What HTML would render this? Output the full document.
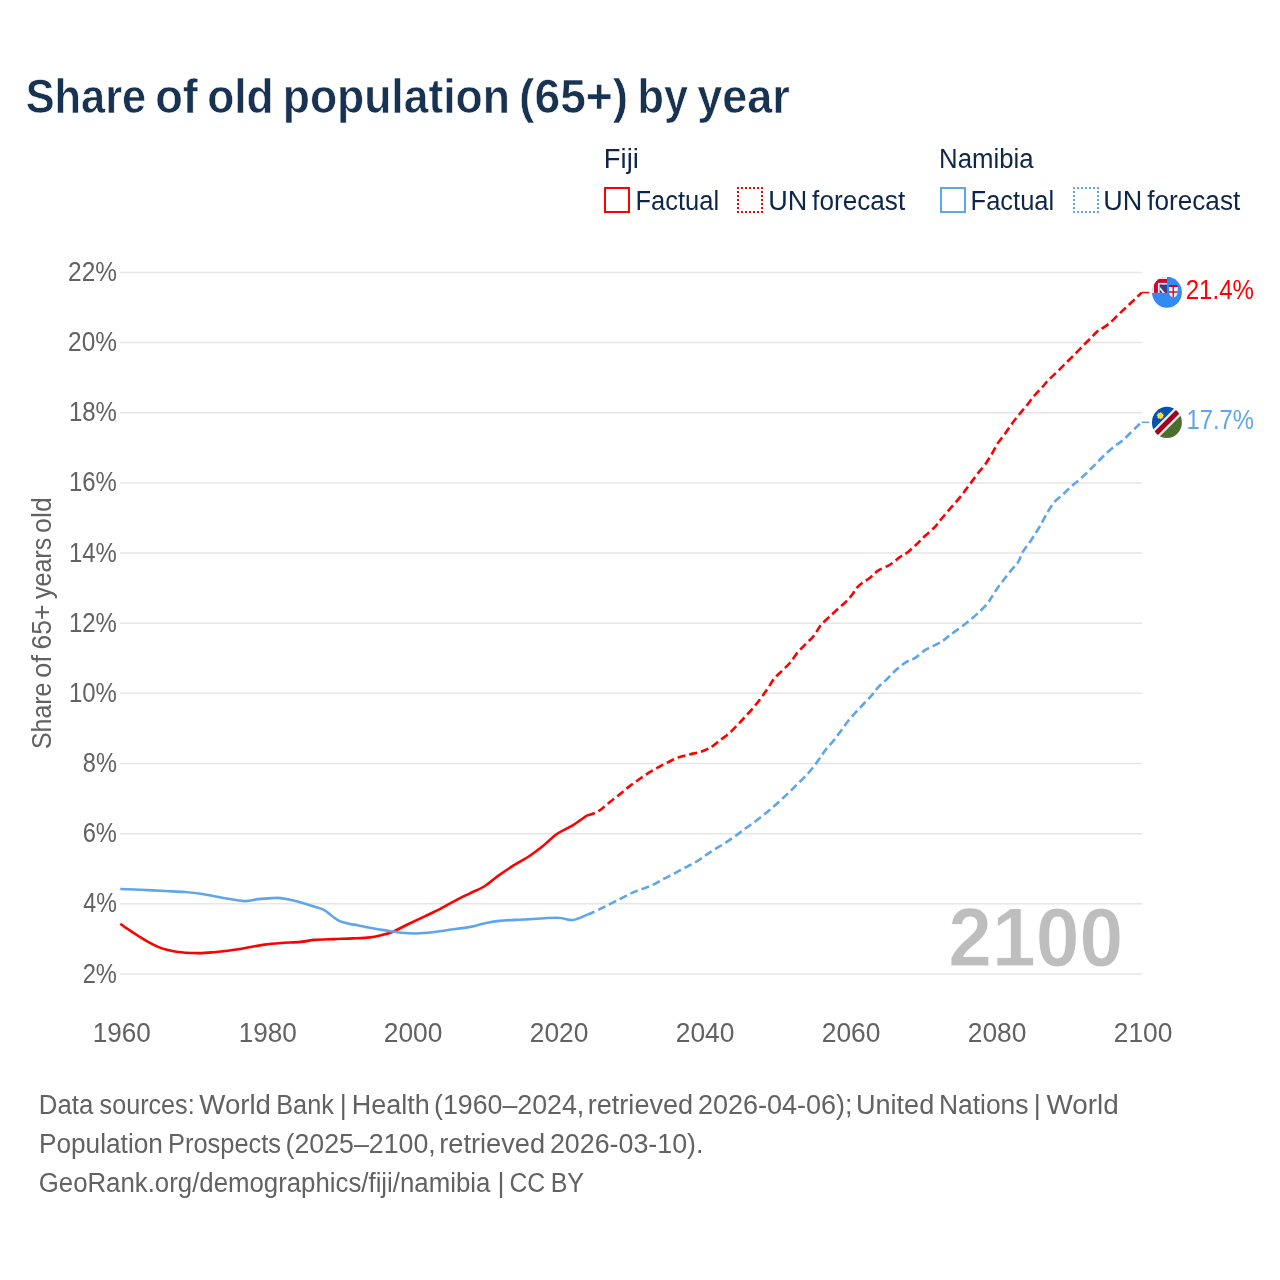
<!DOCTYPE html>
<html><head><meta charset="utf-8"><title>Share of old population (65+) by year</title>
<style>html,body{margin:0;padding:0;background:#fff;width:1280px;height:1280px;overflow:hidden}svg{display:block}</style></head><body>
<svg width="1280" height="1280" viewBox="0 0 1280 1280" font-family="'Liberation Sans', Arial, sans-serif">
<rect width="1280" height="1280" fill="#fff"/>
<g stroke="#e6e6e6" stroke-width="1.5" fill="none">
<line x1="120" y1="974.00" x2="1142" y2="974.00"/>
<line x1="120" y1="903.84" x2="1142" y2="903.84"/>
<line x1="120" y1="833.68" x2="1142" y2="833.68"/>
<line x1="120" y1="763.52" x2="1142" y2="763.52"/>
<line x1="120" y1="693.36" x2="1142" y2="693.36"/>
<line x1="120" y1="623.20" x2="1142" y2="623.20"/>
<line x1="120" y1="553.04" x2="1142" y2="553.04"/>
<line x1="120" y1="482.88" x2="1142" y2="482.88"/>
<line x1="120" y1="412.72" x2="1142" y2="412.72"/>
<line x1="120" y1="342.56" x2="1142" y2="342.56"/>
<line x1="120" y1="272.40" x2="1142" y2="272.40"/>
</g>
<text y="112.60" font-size="48.5" font-weight="bold" fill="#183252" stroke="#fff" stroke-width="0.6"><tspan x="25.66" textLength="120.45" lengthAdjust="spacingAndGlyphs">Share</tspan> <tspan x="155.14" textLength="42.66" lengthAdjust="spacingAndGlyphs">of</tspan> <tspan x="207.17" textLength="66.38" lengthAdjust="spacingAndGlyphs">old</tspan> <tspan x="282.72" textLength="227.22" lengthAdjust="spacingAndGlyphs">population</tspan> <tspan x="519.07" textLength="109.19" lengthAdjust="spacingAndGlyphs">(65+)</tspan> <tspan x="637.60" textLength="50.40" lengthAdjust="spacingAndGlyphs">by</tspan> <tspan x="697.16" textLength="92.68" lengthAdjust="spacingAndGlyphs">year</tspan></text>
<text y="167.80" font-size="27" fill="#0e2749"><tspan x="603.83" textLength="35.05" lengthAdjust="spacingAndGlyphs">Fiji</tspan></text>
<text y="168.00" font-size="27" fill="#0e2749"><tspan x="939.11" textLength="94.54" lengthAdjust="spacingAndGlyphs">Namibia</tspan></text>
<text y="209.80" font-size="27" fill="#0e2749"><tspan x="635.49" textLength="83.59" lengthAdjust="spacingAndGlyphs">Factual</tspan></text>
<text y="209.80" font-size="27" fill="#0e2749"><tspan x="768.20" textLength="39.02" lengthAdjust="spacingAndGlyphs">UN</tspan> <tspan x="812.12" textLength="93.04" lengthAdjust="spacingAndGlyphs">forecast</tspan></text>
<text y="209.80" font-size="27" fill="#0e2749"><tspan x="970.59" textLength="83.59" lengthAdjust="spacingAndGlyphs">Factual</tspan></text>
<text y="209.80" font-size="27" fill="#0e2749"><tspan x="1103.30" textLength="39.02" lengthAdjust="spacingAndGlyphs">UN</tspan> <tspan x="1147.22" textLength="93.04" lengthAdjust="spacingAndGlyphs">forecast</tspan></text>
<text y="982.50" font-size="27" fill="#626262"><tspan x="82.70" textLength="34.21" lengthAdjust="spacingAndGlyphs">2%</tspan></text>
<text y="912.34" font-size="27" fill="#626262"><tspan x="83.36" textLength="33.53" lengthAdjust="spacingAndGlyphs">4%</tspan></text>
<text y="842.18" font-size="27" fill="#626262"><tspan x="82.65" textLength="34.26" lengthAdjust="spacingAndGlyphs">6%</tspan></text>
<text y="772.02" font-size="27" fill="#626262"><tspan x="82.81" textLength="34.09" lengthAdjust="spacingAndGlyphs">8%</tspan></text>
<text y="701.86" font-size="27" fill="#626262"><tspan x="68.95" textLength="47.98" lengthAdjust="spacingAndGlyphs">10%</tspan></text>
<text y="631.70" font-size="27" fill="#626262"><tspan x="68.95" textLength="47.98" lengthAdjust="spacingAndGlyphs">12%</tspan></text>
<text y="561.54" font-size="27" fill="#626262"><tspan x="68.95" textLength="47.98" lengthAdjust="spacingAndGlyphs">14%</tspan></text>
<text y="491.38" font-size="27" fill="#626262"><tspan x="68.95" textLength="47.98" lengthAdjust="spacingAndGlyphs">16%</tspan></text>
<text y="421.22" font-size="27" fill="#626262"><tspan x="68.95" textLength="47.98" lengthAdjust="spacingAndGlyphs">18%</tspan></text>
<text y="351.06" font-size="27" fill="#626262"><tspan x="68.06" textLength="48.90" lengthAdjust="spacingAndGlyphs">20%</tspan></text>
<text y="280.90" font-size="27" fill="#626262"><tspan x="68.06" textLength="48.90" lengthAdjust="spacingAndGlyphs">22%</tspan></text>
<text y="1041.90" font-size="27" fill="#626262"><tspan x="92.69" textLength="58.14" lengthAdjust="spacingAndGlyphs">1960</tspan></text>
<text y="1041.90" font-size="27" fill="#626262"><tspan x="238.69" textLength="58.14" lengthAdjust="spacingAndGlyphs">1980</tspan></text>
<text y="1041.90" font-size="27" fill="#626262"><tspan x="383.76" textLength="58.68" lengthAdjust="spacingAndGlyphs">2000</tspan></text>
<text y="1041.90" font-size="27" fill="#626262"><tspan x="529.76" textLength="58.68" lengthAdjust="spacingAndGlyphs">2020</tspan></text>
<text y="1041.90" font-size="27" fill="#626262"><tspan x="675.76" textLength="58.68" lengthAdjust="spacingAndGlyphs">2040</tspan></text>
<text y="1041.90" font-size="27" fill="#626262"><tspan x="821.76" textLength="58.68" lengthAdjust="spacingAndGlyphs">2060</tspan></text>
<text y="1041.90" font-size="27" fill="#626262"><tspan x="967.76" textLength="58.68" lengthAdjust="spacingAndGlyphs">2080</tspan></text>
<text y="1041.90" font-size="27" fill="#626262"><tspan x="1113.76" textLength="58.68" lengthAdjust="spacingAndGlyphs">2100</tspan></text>
<text y="0.00" transform="translate(50.75,0) rotate(-90)" font-size="27" fill="#626262"><tspan x="-748.98" textLength="66.37" lengthAdjust="spacingAndGlyphs">Share</tspan> <tspan x="-678.02" textLength="23.01" lengthAdjust="spacingAndGlyphs">of</tspan> <tspan x="-649.50" textLength="44.95" lengthAdjust="spacingAndGlyphs">65+</tspan> <tspan x="-599.00" textLength="61.22" lengthAdjust="spacingAndGlyphs">years</tspan> <tspan x="-532.88" textLength="35.75" lengthAdjust="spacingAndGlyphs">old</tspan></text>
<text y="1113.80" font-size="27" fill="#626262"><tspan x="38.76" textLength="54.49" lengthAdjust="spacingAndGlyphs">Data</tspan> <tspan x="99.60" textLength="95.05" lengthAdjust="spacingAndGlyphs">sources:</tspan> <tspan x="199.31" textLength="71.72" lengthAdjust="spacingAndGlyphs">World</tspan> <tspan x="276.20" textLength="57.73" lengthAdjust="spacingAndGlyphs">Bank</tspan> <tspan x="339.70" textLength="7.02" lengthAdjust="spacingAndGlyphs">|</tspan> <tspan x="351.66" textLength="78.02" lengthAdjust="spacingAndGlyphs">Health</tspan> <tspan x="434.05" textLength="150.25" lengthAdjust="spacingAndGlyphs">(1960–2024,</tspan> <tspan x="587.78" textLength="105.33" lengthAdjust="spacingAndGlyphs">retrieved</tspan> <tspan x="698.03" textLength="154.58" lengthAdjust="spacingAndGlyphs">2026-04-06);</tspan> <tspan x="856.00" textLength="78.20" lengthAdjust="spacingAndGlyphs">United</tspan> <tspan x="938.91" textLength="89.64" lengthAdjust="spacingAndGlyphs">Nations</tspan> <tspan x="1033.70" textLength="7.02" lengthAdjust="spacingAndGlyphs">|</tspan> <tspan x="1046.50" textLength="72.24" lengthAdjust="spacingAndGlyphs">World</tspan></text>
<text y="1152.70" font-size="27" fill="#626262"><tspan x="38.92" textLength="123.99" lengthAdjust="spacingAndGlyphs">Population</tspan> <tspan x="168.09" textLength="112.92" lengthAdjust="spacingAndGlyphs">Prospects</tspan> <tspan x="285.60" textLength="150.19" lengthAdjust="spacingAndGlyphs">(2025–2100,</tspan> <tspan x="439.27" textLength="105.74" lengthAdjust="spacingAndGlyphs">retrieved</tspan> <tspan x="549.94" textLength="153.55" lengthAdjust="spacingAndGlyphs">2026-03-10).</tspan></text>
<text y="1191.50" font-size="27" fill="#626262"><tspan x="38.75" textLength="451.57" lengthAdjust="spacingAndGlyphs">GeoRank.org/demographics/fiji/namibia</tspan> <tspan x="497.50" textLength="7.02" lengthAdjust="spacingAndGlyphs">|</tspan> <tspan x="509.39" textLength="35.76" lengthAdjust="spacingAndGlyphs">CC</tspan> <tspan x="550.63" textLength="33.36" lengthAdjust="spacingAndGlyphs">BY</tspan></text>
<text y="965.80" font-size="82.5" font-weight="bold" fill="#bebebe" stroke="#fff" stroke-width="0.8"><tspan x="948.14" textLength="175.01" lengthAdjust="spacingAndGlyphs">2100</tspan></text>
<text y="298.60" font-size="27" fill="#ff0000"><tspan x="1185.68" textLength="68.28" lengthAdjust="spacingAndGlyphs">21.4%</tspan></text>
<text y="428.60" font-size="27" fill="#5fa5eb"><tspan x="1186.47" textLength="67.48" lengthAdjust="spacingAndGlyphs">17.7%</tspan></text>
<rect x="605" y="188" width="24" height="24" fill="none" stroke="#ff0000" stroke-width="2"/>
<rect x="941" y="188" width="24" height="24" fill="none" stroke="#5fa5eb" stroke-width="2"/>
<path fill="#ff0000" d="M737 187h2v2h-2zM737 191h2v2h-2zM737 195h2v2h-2zM737 199h2v2h-2zM737 203h2v2h-2zM737 207h2v2h-2zM737 211h2v2h-2zM741 187h2v2h-2zM741 211h2v2h-2zM745 187h2v2h-2zM745 211h2v2h-2zM749 187h2v2h-2zM749 211h2v2h-2zM753 187h2v2h-2zM753 211h2v2h-2zM757 187h2v2h-2zM757 211h2v2h-2zM761 187h2v2h-2zM761 191h2v2h-2zM761 195h2v2h-2zM761 199h2v2h-2zM761 203h2v2h-2zM761 207h2v2h-2zM761 211h2v2h-2z"/>
<path fill="#5fa5eb" d="M1073 187h2v2h-2zM1073 191h2v2h-2zM1073 195h2v2h-2zM1073 199h2v2h-2zM1073 203h2v2h-2zM1073 207h2v2h-2zM1073 211h2v2h-2zM1077 187h2v2h-2zM1077 211h2v2h-2zM1081 187h2v2h-2zM1081 211h2v2h-2zM1085 187h2v2h-2zM1085 211h2v2h-2zM1089 187h2v2h-2zM1089 211h2v2h-2zM1093 187h2v2h-2zM1093 211h2v2h-2zM1097 187h2v2h-2zM1097 191h2v2h-2zM1097 195h2v2h-2zM1097 199h2v2h-2zM1097 203h2v2h-2zM1097 207h2v2h-2zM1097 211h2v2h-2z"/>
<g fill="none" stroke-width="2.6" stroke-linejoin="round">
<path d="M120.30 923.80 C121.82 924.87 126.33 928.12 129.40 930.20 C132.47 932.28 135.63 934.30 138.75 936.25 C141.87 938.20 144.97 940.17 148.10 941.90 C151.22 943.62 154.37 945.28 157.50 946.60 C160.63 947.92 163.78 948.95 166.90 949.80 C170.03 950.65 173.13 951.22 176.25 951.70 C179.37 952.18 181.69 952.47 185.60 952.70 C189.51 952.93 195.01 953.18 199.70 953.10 C204.39 953.02 209.85 952.51 213.75 952.20 C217.65 951.89 218.72 951.78 223.10 951.25 C227.47 950.72 235.65 949.66 240.00 949.00 C244.35 948.34 245.12 948.03 249.20 947.30 C253.28 946.57 259.22 945.32 264.50 944.60 C269.78 943.88 274.88 943.45 280.90 943.00 C286.92 942.55 294.95 942.42 300.60 941.90 C306.25 941.38 309.33 940.37 314.80 939.90 C320.27 939.43 327.02 939.35 333.40 939.10 C339.78 938.85 347.00 938.68 353.10 938.40 C359.20 938.12 365.23 937.95 370.00 937.40 C374.77 936.85 378.05 935.95 381.70 935.10 C385.35 934.25 389.42 933.15 391.90 932.30 C394.38 931.45 393.73 931.42 396.60 930.00 C399.47 928.58 404.42 926.03 409.10 923.75 C413.78 921.47 419.50 918.77 424.70 916.30 C429.90 913.82 435.10 911.57 440.30 908.90 C445.50 906.23 450.95 902.90 455.90 900.30 C460.85 897.70 465.30 895.60 470.00 893.30 C474.70 891.00 479.42 889.40 484.10 886.50 C488.78 883.60 493.18 879.42 498.10 875.90 C503.02 872.38 508.43 868.67 513.60 865.40 C518.77 862.12 524.42 859.30 529.10 856.25 C533.78 853.20 537.02 850.85 541.70 847.10 C546.38 843.35 552.03 837.38 557.20 833.75 C562.37 830.12 567.70 828.38 572.70 825.30 C577.70 822.22 584.78 816.97 587.20 815.30" stroke="#ff0000"/>
<path d="M587.20 815.30 C587.43 815.25 587.45 815.33 588.60 815.00 C589.75 814.67 591.98 814.27 594.10 813.30 C596.22 812.33 598.67 811.07 601.30 809.20 C603.93 807.33 606.87 804.55 609.90 802.10 C612.93 799.65 616.37 797.03 619.50 794.50 C622.63 791.97 625.65 789.27 628.70 786.90 C631.75 784.53 634.67 782.50 637.80 780.30 C640.93 778.10 644.20 775.82 647.50 773.70 C650.80 771.58 654.22 769.50 657.60 767.60 C660.98 765.70 664.33 764.00 667.80 762.30 C671.27 760.60 674.77 758.72 678.40 757.40 C682.03 756.08 685.87 755.33 689.60 754.40 C693.33 753.47 697.55 752.82 700.80 751.80 C704.05 750.78 707.05 749.30 709.10 748.30 C711.15 747.30 711.25 747.15 713.10 745.80 C714.95 744.45 717.48 742.32 720.20 740.20 C722.92 738.08 726.52 735.63 729.40 733.10 C732.28 730.57 734.80 727.80 737.50 725.00 C740.20 722.20 742.89 719.27 745.60 716.30 C748.31 713.33 751.20 710.25 753.75 707.20 C756.30 704.15 758.61 701.05 760.90 698.00 C763.19 694.95 765.30 692.11 767.50 688.90 C769.70 685.69 771.65 681.80 774.10 678.75 C776.55 675.70 779.50 673.31 782.20 670.60 C784.90 667.89 787.85 665.37 790.30 662.50 C792.75 659.63 794.37 656.45 796.90 653.40 C799.43 650.35 802.80 647.00 805.50 644.20 C808.20 641.40 810.82 639.38 813.10 636.60 C815.38 633.82 817.67 629.70 819.20 627.50 C820.73 625.30 820.60 625.18 822.30 623.40 C824.00 621.62 826.87 619.17 829.40 616.80 C831.93 614.43 834.72 611.73 837.50 609.20 C840.28 606.67 843.57 604.13 846.10 601.60 C848.63 599.07 851.08 596.12 852.70 594.00 C854.32 591.88 854.27 590.68 855.80 588.90 C857.33 587.12 859.53 585.17 861.90 583.30 C864.27 581.43 867.30 579.82 870.00 577.70 C872.70 575.58 874.72 572.80 878.10 570.60 C881.48 568.40 886.73 566.70 890.30 564.50 C893.87 562.30 896.62 559.43 899.50 557.40 C902.38 555.37 904.73 554.50 907.60 552.30 C910.47 550.10 913.95 546.78 916.70 544.20 C919.45 541.62 921.18 539.55 924.10 536.80 C927.02 534.05 931.33 530.67 934.20 527.70 C937.07 524.73 938.75 522.05 941.30 519.00 C943.85 515.95 946.78 512.53 949.50 509.40 C952.22 506.27 955.07 503.25 957.60 500.20 C960.13 497.15 962.50 493.97 964.70 491.10 C966.90 488.23 968.60 485.97 970.80 483.00 C973.00 480.03 975.53 476.35 977.90 473.30 C980.27 470.25 982.63 468.00 985.00 464.70 C987.37 461.40 989.98 457.05 992.10 453.50 C994.22 449.95 995.52 446.75 997.70 443.40 C999.88 440.05 1002.80 436.72 1005.20 433.40 C1007.60 430.08 1009.75 426.68 1012.10 423.50 C1014.45 420.32 1016.83 417.35 1019.30 414.30 C1021.77 411.25 1024.45 408.25 1026.90 405.20 C1029.35 402.15 1031.55 398.88 1034.00 396.00 C1036.45 393.12 1039.14 390.60 1041.60 387.90 C1044.06 385.20 1046.12 382.52 1048.75 379.80 C1051.38 377.08 1054.44 374.48 1057.40 371.60 C1060.36 368.72 1063.53 365.45 1066.50 362.50 C1069.47 359.55 1072.32 356.82 1075.20 353.90 C1078.08 350.98 1081.07 347.78 1083.80 345.00 C1086.53 342.22 1089.37 339.43 1091.60 337.20 C1093.83 334.97 1095.70 332.90 1097.20 331.60 C1098.70 330.30 1098.52 330.82 1100.60 329.40 C1102.68 327.98 1106.78 325.50 1109.70 323.10 C1112.62 320.70 1115.28 317.70 1118.10 315.00 C1120.92 312.30 1123.73 309.61 1126.60 306.90 C1129.47 304.19 1132.80 301.13 1135.30 298.75 C1137.80 296.37 1140.55 293.62 1141.60 292.60" stroke="#ff0000" stroke-dasharray="8 4"/>
<path d="M120.30 889.00 C123.58 889.12 132.55 889.42 140.00 889.75 C147.45 890.08 157.50 890.62 165.00 891.00 C172.50 891.38 178.75 891.50 185.00 892.00 C191.25 892.50 196.50 893.08 202.50 894.00 C208.50 894.92 214.07 896.32 221.00 897.50 C227.93 898.68 237.92 900.83 244.10 901.10 C250.28 901.37 253.42 899.60 258.10 899.10 C262.78 898.60 268.45 898.27 272.20 898.10 C275.95 897.93 276.70 897.63 280.60 898.10 C284.50 898.57 290.75 899.72 295.60 900.90 C300.45 902.08 305.01 903.72 309.70 905.20 C314.39 906.68 320.16 908.08 323.75 909.80 C327.34 911.52 328.59 913.62 331.25 915.50 C333.91 917.38 336.57 919.70 339.70 921.10 C342.82 922.50 347.03 923.22 350.00 923.90 C352.97 924.58 354.17 924.57 357.50 925.20 C360.83 925.83 365.32 926.83 370.00 927.70 C374.68 928.57 380.39 929.57 385.60 930.40 C390.81 931.23 396.03 932.18 401.25 932.70 C406.47 933.22 411.69 933.57 416.90 933.50 C422.11 933.43 427.30 932.88 432.50 932.30 C437.70 931.72 441.85 930.90 448.10 930.00 C454.35 929.10 464.00 927.98 470.00 926.90 C476.00 925.82 479.18 924.50 484.10 923.50 C489.02 922.50 492.95 921.57 499.50 920.90 C506.05 920.23 513.78 920.02 523.40 919.50 C533.02 918.98 548.98 917.72 557.20 917.80 C565.42 917.88 567.70 920.53 572.70 920.00 C577.70 919.47 584.78 915.50 587.20 914.60" stroke="#5fa5eb"/>
<path d="M587.20 914.60 C587.83 914.37 588.58 914.27 591.00 913.20 C593.42 912.13 598.23 909.88 601.70 908.20 C605.17 906.52 608.42 904.80 611.80 903.10 C615.18 901.40 618.52 899.75 622.00 898.00 C625.48 896.25 629.15 894.17 632.70 892.60 C636.25 891.03 639.75 889.98 643.30 888.60 C646.85 887.22 650.53 885.95 654.00 884.30 C657.47 882.65 660.67 880.53 664.10 878.70 C667.53 876.87 671.12 875.13 674.60 873.30 C678.08 871.47 681.58 869.50 685.00 867.70 C688.42 865.90 691.83 864.43 695.10 862.50 C698.37 860.57 701.42 858.25 704.60 856.10 C707.78 853.95 710.93 851.68 714.20 849.60 C717.47 847.52 720.92 845.70 724.20 843.60 C727.48 841.50 730.68 839.28 733.90 837.00 C737.12 834.72 740.37 832.18 743.50 829.90 C746.63 827.62 749.57 825.62 752.70 823.30 C755.83 820.98 759.27 818.40 762.30 816.00 C765.33 813.60 767.93 811.45 770.90 808.90 C773.87 806.35 777.13 803.38 780.10 800.70 C783.07 798.02 785.92 795.47 788.70 792.80 C791.48 790.13 794.08 787.40 796.80 784.70 C799.52 782.00 802.28 779.48 805.00 776.60 C807.72 773.72 810.65 770.45 813.10 767.40 C815.55 764.35 817.58 761.27 819.70 758.30 C821.82 755.33 823.40 752.65 825.80 749.60 C828.20 746.55 831.53 743.20 834.10 740.00 C836.67 736.80 838.83 733.62 841.20 730.40 C843.57 727.18 845.85 723.75 848.30 720.70 C850.75 717.65 853.28 714.97 855.90 712.10 C858.52 709.23 861.30 706.38 864.00 703.50 C866.70 700.62 869.64 697.60 872.10 694.80 C874.56 692.00 876.12 689.48 878.75 686.70 C881.38 683.92 884.94 680.97 887.90 678.10 C890.86 675.23 893.53 672.13 896.50 669.50 C899.47 666.87 902.57 664.25 905.70 662.30 C908.83 660.35 912.08 659.82 915.30 657.80 C918.52 655.78 921.70 652.32 925.00 650.20 C928.30 648.08 932.10 646.68 935.10 645.10 C938.10 643.52 940.83 642.12 943.00 640.70 C945.17 639.28 946.15 638.12 948.10 636.60 C950.05 635.08 952.07 633.53 954.70 631.60 C957.33 629.67 960.93 627.28 963.90 625.00 C966.87 622.72 969.63 620.37 972.50 617.90 C975.37 615.43 978.57 612.67 981.10 610.20 C983.63 607.73 985.92 605.30 987.70 603.10 C989.48 600.90 990.27 599.37 991.80 597.00 C993.33 594.63 995.03 591.60 996.90 588.90 C998.77 586.20 1000.80 583.68 1003.00 580.80 C1005.20 577.92 1007.73 574.48 1010.10 571.60 C1012.47 568.72 1015.60 565.60 1017.20 563.50 C1018.80 561.40 1018.77 560.95 1019.70 559.00 C1020.63 557.05 1021.18 554.52 1022.80 551.80 C1024.42 549.08 1027.18 545.92 1029.40 542.70 C1031.62 539.48 1033.97 535.92 1036.10 532.50 C1038.23 529.08 1040.25 525.63 1042.20 522.20 C1044.15 518.77 1045.77 515.27 1047.80 511.90 C1049.83 508.53 1051.82 504.97 1054.40 502.00 C1056.98 499.03 1060.42 496.75 1063.30 494.10 C1066.18 491.45 1068.82 488.68 1071.70 486.10 C1074.58 483.52 1077.70 481.18 1080.60 478.60 C1083.50 476.02 1086.28 473.33 1089.10 470.60 C1091.92 467.87 1094.70 465.01 1097.50 462.20 C1100.30 459.39 1103.08 456.41 1105.90 453.75 C1108.72 451.09 1111.73 448.36 1114.40 446.25 C1117.07 444.14 1119.57 442.98 1121.90 441.10 C1124.23 439.23 1125.90 437.42 1128.40 435.00 C1130.90 432.58 1134.70 428.72 1136.90 426.60 C1139.10 424.48 1140.82 423.02 1141.60 422.30" stroke="#5fa5eb" stroke-dasharray="8 4"/>
</g>
<line x1="1141.6" y1="292.55" x2="1149.2" y2="292.55" stroke="#ff0000" stroke-width="1.5"/>
<line x1="1141.6" y1="422.3" x2="1149.2" y2="422.3" stroke="#5fa5eb" stroke-width="1.5"/>
<defs><clipPath id="cfj"><ellipse cx="1166.95" cy="292.35" rx="14.95" ry="15.5"/></clipPath><clipPath id="cna"><ellipse cx="1166.9" cy="422.4" rx="14.95" ry="15.55"/></clipPath></defs>
<g clip-path="url(#cfj)">
<rect x="1152" y="277" width="30" height="31" fill="#338af3"/>
<rect x="1152" y="277" width="15" height="15.9" fill="#eeeeee"/>
<rect x="1152" y="279" width="15" height="3.9" fill="#d80027"/>
<rect x="1154" y="277" width="3.9" height="15.9" fill="#d80027"/>
<rect x="1159.6" y="284.6" width="7.4" height="8.3" fill="#0052b4"/>
<path d="M1159.6 286.5 L1165 292.9 L1162.6 292.9 L1159.6 289.3 Z" fill="#eeeeee"/>
<path d="M1160 284.6 L1161.4 284.6 L1167 291.4 L1167 292.9 L1166.2 292.9 Z" fill="#d80027"/>
<path d="M1169 285 H1177.8 V292 Q1177.8 296 1173.4 297.8 Q1169 296 1169 292 Z" fill="#eeeeee"/>
<rect x="1169" y="285" width="8.8" height="2" fill="#d80027"/>
<rect x="1172.6" y="287" width="1.3" height="10.6" fill="#d80027"/>
<rect x="1169" y="291.3" width="8.8" height="1.4" fill="#d80027"/>
</g>

<g clip-path="url(#cna)">
<rect x="1150" y="405" width="34" height="36" fill="#eeeeee"/>
<path d="M1140 395 H1187.65 L1140 442.65 Z" fill="#0052b4"/>
<path d="M1190.95 395 H1197.95 L1140 452.95 V445.95 Z" fill="#a2001d"/>
<path d="M1201.25 395 H1210 V460 H1140 V456.25 Z" fill="#496e2d"/>
<g transform="translate(1160.3,415.7)" fill="#ffda44"><circle r="2.6"/><path d="M0.00 -4.10 L0.65 -2.41 L2.05 -3.55 L1.77 -1.77 L3.55 -2.05 L2.41 -0.65 L4.10 0.00 L2.41 0.65 L3.55 2.05 L1.77 1.77 L2.05 3.55 L0.65 2.41 L0.00 4.10 L-0.65 2.41 L-2.05 3.55 L-1.77 1.77 L-3.55 2.05 L-2.41 0.65 L-4.10 0.00 L-2.41 -0.65 L-3.55 -2.05 L-1.77 -1.77 L-2.05 -3.55 L-0.65 -2.41 Z"/></g>
</g>

</svg></body></html>
